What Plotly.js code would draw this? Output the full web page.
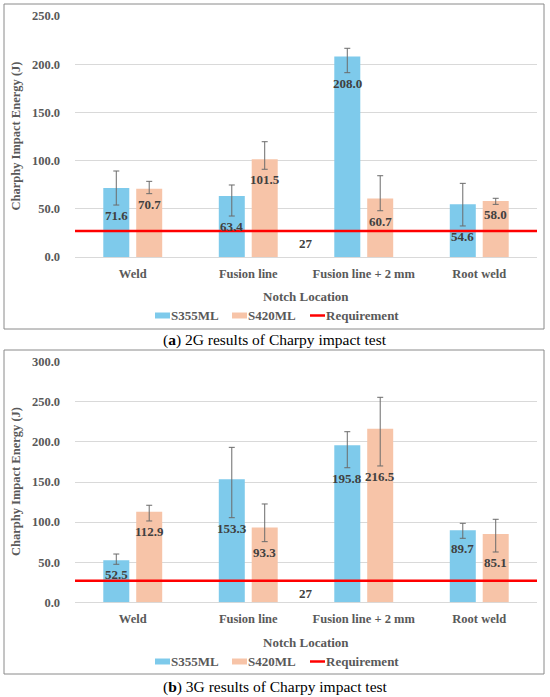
<!DOCTYPE html>
<html>
<head>
<meta charset="utf-8">
<script src="https://cdn.plot.ly/plotly-3.0.1.min.js"></script>
<style>html,body{margin:0;padding:0;background:#fff;}#chart{width:550px;height:697px;}</style>
</head>
<body>
<div id="chart"></div>
<script>
const categories = ["Weld", "Fusion line", "Fusion line + 2 mm", "Root weld"];
const seriesNames = ["S355ML", "S420ML", "Requirement"];
const requirement = 27;

// (a) 2G
const s355_2G = [71.6, 63.4, 208.0, 54.6];
const s355_2G_plus = [17.6, 11.3, 8.5, 21.8];
const s355_2G_minus = [17.7, 20.9, 16.8, 22.4];
const s420_2G = [70.7, 101.5, 60.7, 58.0];
const s420_2G_plus = [7.8, 18.1, 23.6, 2.9];
const s420_2G_minus = [5.0, 10.5, 12.7, 3.4];

// (b) 3G
const s355_3G = [52.5, 153.3, 195.8, 89.7];
const s355_3G_plus = [7.7, 39.9, 16.9, 8.8];
const s355_3G_minus = [5.1, 47.8, 28.0, 9.9];
const s420_3G = [112.9, 93.3, 216.5, 85.1];
const s420_3G_plus = [8.1, 29.3, 39.1, 18.4];
const s420_3G_minus = [11.5, 17.7, 46.5, 22.4];

const captionA = "(<b>a</b>) 2G results of Charpy impact test";
const captionB = "(<b>b</b>) 3G results of Charpy impact test";
const yTitle = "Charphy Impact Energy (J)";
const xTitle = "Notch Location";

const W = 550, H = 697;
const BLUE = "#7ECAEB", ORANGE = "#F7C4A8", RED = "#FF0000";
const GRAY = "#595959", LABEL = "#404040";
const SERIF = "Liberation Serif, Times New Roman, serif";
const idx = categories.map((c, i) => i);

function py(p) { return 1 - p / H; }
function px(p) { return p / W; }

const tickFont = {family: SERIF, size: 12.5, color: GRAY, weight: 700};
const legFont = {family: SERIF, size: 13, color: GRAY, weight: 700};
const valFont = {family: SERIF, size: 13, color: LABEL, weight: 700};
const capFont = {family: SERIF, size: 15.5, color: "#000"};

function barTrace(vals, plus, minus, name, color, xa, ya) {
  return {
    type: "bar", x: idx, y: vals, name: name, xaxis: xa, yaxis: ya, showlegend: false,
    marker: {color: color},
    error_y: {type: "data", symmetric: false, array: plus, arrayminus: minus,
              color: "#6b6b6b", thickness: 1, width: 3},
    hoverinfo: "y"
  };
}

function reqTrace(xa, ya) {
  return {type: "scatter", mode: "lines", x: [-0.5, categories.length - 0.5],
          y: [requirement, requirement], name: seriesNames[2], xaxis: xa, yaxis: ya,
          showlegend: false, line: {color: RED, width: 2.5}};
}

function labels(vals, minus, xa, ya, shift) {
  return vals.map((v, i) => ({
    x: i, y: v - minus[i], xref: xa, yref: ya, xshift: shift, yshift: -1,
    text: v.toFixed(1), showarrow: false, yanchor: "top", xanchor: "center",
    font: valFont
  }));
}
function reqLabel(xa, ya) {
  return {x: (categories.length - 1) / 2, y: requirement, xref: xa, yref: ya, yshift: -3,
          text: String(requirement), showarrow: false, xanchor: "center", yanchor: "top",
          font: valFont};
}

const data = [
  barTrace(s355_2G, s355_2G_plus, s355_2G_minus, seriesNames[0], BLUE, "x", "y"),
  barTrace(s420_2G, s420_2G_plus, s420_2G_minus, seriesNames[1], ORANGE, "x", "y"),
  reqTrace("x", "y"),
  barTrace(s355_3G, s355_3G_plus, s355_3G_minus, seriesNames[0], BLUE, "x2", "y2"),
  barTrace(s420_3G, s420_3G_plus, s420_3G_minus, seriesNames[1], ORANGE, "x2", "y2"),
  reqTrace("x2", "y2")
];

const xDom = [px(75), px(537)];
const yDomA = [py(257), py(16)];
const yDomB = [py(602.3), py(361.7)];

function xAxis(anchor, dom) {
  return {domain: dom, anchor: anchor, range: [-0.5, categories.length - 0.5],
          tickvals: idx, ticktext: categories, showgrid: false, zeroline: false,
          showline: false, ticks: "", tickfont: tickFont, ticklabelstandoff: 7, fixedrange: true};
}
function yAxis(anchor, dom, max) {
  return {domain: dom, anchor: anchor, range: [0, max], dtick: 50, tickformat: ".1f",
          showgrid: true, gridcolor: "#d9d9d9", gridwidth: 1, zeroline: true,
          zerolinecolor: "#d9d9d9", zerolinewidth: 1, showline: false, ticks: "",
          tickfont: tickFont, ticklabelstandoff: 14, fixedrange: true};
}

// custom legend (Excel style: short swatch right next to its text)
const legendItems = [
  {kind: "bar", color: BLUE, x0: 155, text: seriesNames[0]},
  {kind: "bar", color: ORANGE, x0: 232, text: seriesNames[1]},
  {kind: "line", color: RED, x0: 310, text: seriesNames[2]}
];
function legendParts(yc) {
  const shp = [], ann = [];
  legendItems.forEach(it => {
    if (it.kind === "bar") {
      shp.push({type: "rect", xref: "paper", yref: "paper", x0: px(it.x0), x1: px(it.x0 + 15),
                y0: py(yc + 3), y1: py(yc - 3), fillcolor: it.color, line: {width: 0}});
    } else {
      shp.push({type: "line", xref: "paper", yref: "paper", x0: px(it.x0), x1: px(it.x0 + 15),
                y0: py(yc), y1: py(yc), line: {color: it.color, width: 2.5}});
    }
    ann.push({text: it.text, xref: "paper", yref: "paper", x: px(it.x0 + 15), y: py(yc),
              xanchor: "left", yanchor: "middle", showarrow: false, font: legFont,
              borderpad: 0});
  });
  return {shp, ann};
}
const legA = legendParts(315.5);
const legB = legendParts(661.5);

function mid(o) { return Object.assign({showarrow: false, xanchor: "center", yanchor: "middle"}, o); }

const annotations = [
  ...labels(s355_2G, s355_2G_minus, "x", "y", -16.5),
  ...labels(s420_2G, s420_2G_minus, "x", "y", 16.5),
  ...labels(s355_3G, s355_3G_minus, "x2", "y2", -16.5),
  ...labels(s420_3G, s420_3G_minus, "x2", "y2", 16.5),
  reqLabel("x", "y"), reqLabel("x2", "y2"),
  mid({text: yTitle, textangle: -90, xref: "paper", yref: "y domain", x: px(16), y: 0.5, font: tickFont}),
  mid({text: yTitle, textangle: -90, xref: "paper", yref: "y2 domain", x: px(16), y: 0.5, font: tickFont}),
  mid({text: xTitle, xref: "x domain", yref: "paper", x: 0.5, y: py(296), font: legFont}),
  mid({text: xTitle, xref: "x2 domain", yref: "paper", x: 0.5, y: py(642), font: legFont}),
  ...legA.ann, ...legB.ann,
  mid({text: captionA, xref: "paper", yref: "paper", x: 0.5, y: py(339.5), font: capFont}),
  mid({text: captionB, xref: "paper", yref: "paper", x: 0.5, y: py(686.5), font: capFont})
];

const shapes = [
  {type: "rect", xref: "paper", yref: "paper", x0: px(4), x1: px(544), y0: py(329), y1: py(4),
   line: {color: "#8a8a8a", width: 1}},
  {type: "rect", xref: "paper", yref: "paper", x0: px(4), x1: px(544), y0: py(674), y1: py(350),
   line: {color: "#8a8a8a", width: 1}},
  ...legA.shp, ...legB.shp
];

const layout = {
  width: W, height: H, margin: {l: 0, r: 0, t: 0, b: 0, pad: 0, autoexpand: false},
  paper_bgcolor: "#fff", plot_bgcolor: "#fff",
  barmode: "group", bargap: 0.43, bargroupgap: 0.21,
  xaxis: xAxis("y", xDom), yaxis: yAxis("x", yDomA, 250),
  xaxis2: xAxis("y2", xDom), yaxis2: yAxis("x2", yDomB, 300),
  annotations: annotations, shapes: shapes, showlegend: false
};

Plotly.newPlot("chart", data, layout, {displayModeBar: false, staticPlot: true});
</script>
</body>
</html>
